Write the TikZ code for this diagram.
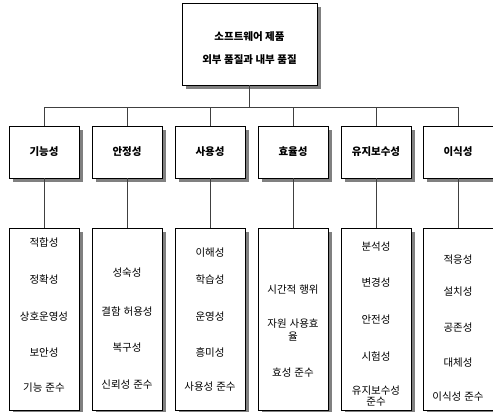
\documentclass[tikz,border=0pt]{standalone}
\usepackage{fontspec}
\setmainfont{Noto Sans CJK KR}
\usetikzlibrary{shadows}

\tikzset{
  boxshadow/.style={drop shadow={shadow xshift=4pt, shadow yshift=-4pt, fill=black!50, opacity=1}},
  topbox/.style={draw, fill=white, line width=0.8pt, boxshadow, minimum width=135pt, minimum height=82pt},
  rootlabel/.style={font=\bfseries\fontsize{10.5}{12}\selectfont,
    execute at begin node={\spaceskip=2.5pt\relax}},
  charbox/.style={draw, fill=white, line width=0.8pt, boxshadow, minimum width=70pt, minimum height=52pt,
    font=\bfseries\fontsize{10.5}{12}\selectfont},
  subbox/.style={draw, fill=white, line width=0.8pt, boxshadow, minimum width=70pt, minimum height=182pt},
  item/.style={font=\fontsize{10.5}{11}\selectfont, align=center,
    execute at begin node={\spaceskip=3pt\relax}},
  link/.style={draw=black!75, line width=0.7pt},
}

\begin{document}
\begin{tikzpicture}[x=1pt,y=-1pt]
  \useasboundingbox (0,0) rectangle (493,412);
  \clip (0,0) rectangle (493,412);
  % root
  \node[topbox] (root) at (249.5,44) {};
  \node[rootlabel] (root1) at (249.5,37) {소프트웨어 제품};
  \node[rootlabel] (root2) at (249.5,60) {외부 품질과 내부 품질};
  \coordinate (bus) at (250,107);
  % characteristics and their sub-boxes
  \foreach \n/\x/\t in {c1/44/기능성, c2/127/안정성, c3/210/사용성,
                         c4/293/효율성, c5/376/유지보수성, c6/458/이식성}{
    \node[charbox] (\n) at (\x,152) {\t};
    \node[subbox] (\n s) at (\x,319) {};
    \draw[link] (\n) -- (\n s);
    \draw[link] (\n.north) -- (\n.north |- bus);
  }
  \draw[link] (root.south) -- (root.south |- bus);
  \draw[link] (c1.north |- bus) -- (c6.north |- bus);
  % sub-characteristics
  \foreach \y/\t [count=\i] in {243/적합성, 280/정확성, 317/상호운영성, 353/보안성, 388/기능 준수}
    \node[item] (c1-\i) at (44,\y) {\t};
  \foreach \y/\t [count=\i] in {273/성숙성, 312/결함 허용성, 348/복구성, 385/신뢰성 준수}
    \node[item] (c2-\i) at (127,\y) {\t};
  \foreach \y/\t [count=\i] in {253/이해성, 280/학습성, 317/운영성, 353/흥미성, 387/사용성 준수}
    \node[item] (c3-\i) at (210,\y) {\t};
  \foreach \y/\t [count=\i] in {290/시간적 행위, 330/{자원 사용효\\[2pt]율}, 373/효성 준수}
    \node[item] (c4-\i) at (293,\y) {\t};
  \foreach \y/\t [count=\i] in {247/분석성, 283/변경성, 320/안전성, 357/시험성, 396/{유지보수성\\[-0.5pt]준수}}
    \node[item] (c5-\i) at (376,\y) {\t};
  \foreach \y/\t [count=\i] in {260/적응성, 292/설치성, 328/공존성, 363/대체성, 397/이식성 준수}
    \node[item] (c6-\i) at (458,\y) {\t};
\end{tikzpicture}
\end{document}
